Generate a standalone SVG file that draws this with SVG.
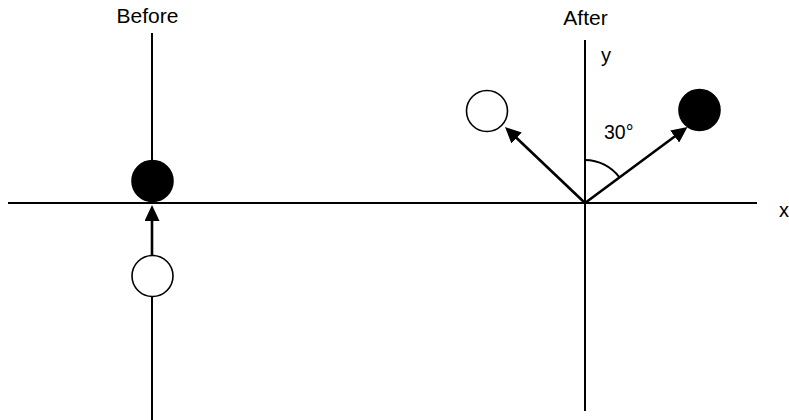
<svg xmlns="http://www.w3.org/2000/svg" width="789" height="420" viewBox="0 0 789 420">
<style>
.ln{stroke:#000;stroke-width:2;fill:none}
.ar{stroke:#000;stroke-width:2.6;fill:none}
.t{font-family:"Liberation Sans",Arial,sans-serif;font-size:20px;fill:#000}
.w{fill:#fff;stroke:#000;stroke-width:1.6}
.b{fill:#000;stroke:#000;stroke-width:1.6}
</style>
<defs>
<marker id="ah" markerWidth="16" markerHeight="15" refX="8" refY="7.5" orient="auto" markerUnits="userSpaceOnUse">
<path d="M0,0 L16,7.5 L0,15 Z" fill="#000"/>
</marker>
</defs>
<rect width="789" height="420" fill="#fff"/>
<g id="axes">
<line class="ln" x1="8" y1="203" x2="757" y2="203"/>
<line class="ln" x1="152" y1="33" x2="152" y2="162"/>
<line class="ln" x1="152" y1="296" x2="152" y2="420"/>
<line class="ln" x1="585" y1="40" x2="585" y2="411"/>
<text class="t" x="779" y="217">x</text>
<text class="t" x="601" y="62">y</text>
</g>
<g id="before">
<text class="t" style="font-size:21px" x="147.5" y="23" text-anchor="middle">Before</text>
<circle id="before-black" class="b" cx="152.5" cy="181" r="20.5"/>
<circle id="before-white" class="w" cx="152.5" cy="276" r="20.5"/>
</g>
<g id="after">
<text class="t" style="font-size:21px" x="585.5" y="25" text-anchor="middle">After</text>
<circle id="after-white" class="w" cx="487" cy="111" r="20.5"/>
<circle id="after-black" class="b" cx="699.5" cy="110" r="20.5"/>
<text class="t" style="font-size:19.5px" x="604" y="139">30°</text>
<path class="ln" stroke-width="1.4" d="M585,160 A43,43 0 0 1 619.5,177.4"/>
</g>
<g id="connectors">
<line class="ar" x1="152" y1="255" x2="152" y2="213" marker-end="url(#ah)"/>
<line class="ar" x1="585" y1="203" x2="510.8" y2="132.5" marker-end="url(#ah)"/>
<line class="ar" x1="585" y1="203" x2="681.1" y2="131.8" marker-end="url(#ah)"/>
</g>
</svg>
